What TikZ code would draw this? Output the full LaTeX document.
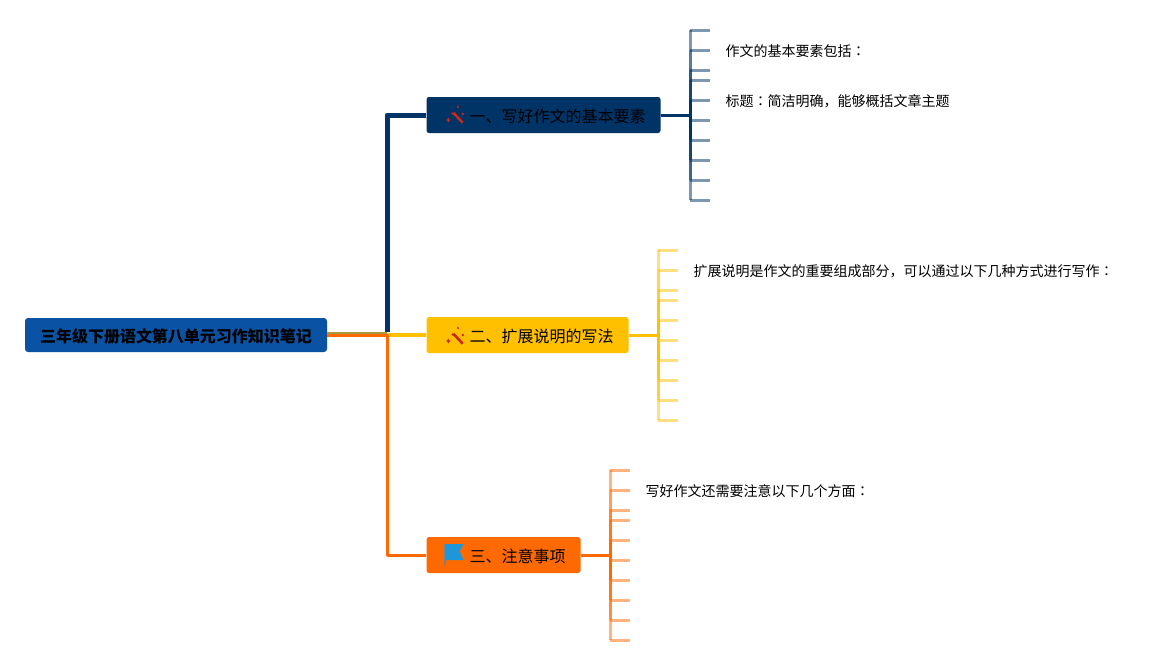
\documentclass[tikz,border=0pt]{standalone}
\usepackage{fontspec}
\setmainfont{Noto Sans CJK SC}
\newfontfamily\tcf{Noto Sans CJK TC}
\newcommand{\cln}{{\tcf ：}}
\definecolor{rootc}{HTML}{0A52A3}
\definecolor{navyc}{HTML}{003366}
\definecolor{yelc}{HTML}{FFC000}
\definecolor{orac}{HTML}{FF6A00}
\definecolor{olivec}{HTML}{AD9840}
\definecolor{wandc}{HTML}{C8281E}
\definecolor{flagc}{HTML}{1E96DC}
\tikzset{
  rootbox/.style={fill=rootc,rounded corners=3pt,inner sep=0pt,minimum height=34pt},
  roottext/.style={inner sep=0pt,text=black,font=\fontsize{16}{16}\selectfont\bfseries},
  branchbox/.style={rounded corners=2.5pt,inner sep=0pt,minimum height=36pt},
  branchtext/.style={inner sep=0pt,anchor=west,text=black,font=\fontsize{16}{16}\selectfont},
  leaftext/.style={inner sep=0pt,anchor=west,text=black,font=\fontsize{14}{14}\selectfont},
  leaftick/.style={line width=3pt,draw opacity=.5},
  sublink/.style={line width=3pt}
}
\newcommand{\wandicon}[2]{%
  \begin{scope}[shift={(#1,#2)}]
    \draw[wandc,line width=2.6pt] (-1.2,-3.3) -- (8.2,6.7);
    \fill[wandc] (-6.2,1.5) -- (-5.4,3.2) -- (-3.7,4) -- (-5.4,4.8) -- (-6.2,6.5) -- (-7,4.8) -- (-8.7,4) -- (-7,3.2) -- cycle;
    \fill[wandc] (3.5,-9) circle (1.1);
    \fill[wandc] (8.2,-2) circle (1.4);
    \fill[wandc] (-2,-2.5) circle (1.1);
  \end{scope}}
\newcommand{\leafgroup}[4]{% x, base y, colour, prefix
  \foreach \k/\dy in {0/0,1/20,2/40,3/50,4/70,5/90,6/110,7/130,8/150,9/170}{
    \pgfmathsetmacro{\yy}{#2+\dy}
    \coordinate (#4s\k) at (#1,\yy);
    \coordinate (#4t\k) at (#1+20,\yy);
    \draw[leaftick,#3] (#4s\k) -- (#4t\k);
  }
  \foreach \a/\b/\op in {0/1/.5,1/2/.65,2/3/.8,3/4/.9,4/5/1,5/6/1,6/7/.9,7/8/.75,8/9/.5}{
    \draw[#3,line width=3pt,draw opacity=\op] (#4s\a) -- (#4s\b);
  }
}
\begin{document}
\begin{tikzpicture}[x=1pt,y=-1pt]
\useasboundingbox[fill=white] (0,0) rectangle (1173,665);

\node[rootbox,minimum width=302pt] (root) at (176,335) {};
\node[roottext] (roott) at (176,336) {三年级下册语文第八单元习作知识笔记};
\node[branchbox,fill=navyc,minimum width=234pt] (b1) at (543.5,115) {};
\node[branchbox,fill=yelc,minimum width=202pt] (b2) at (527.5,335) {};
\node[branchbox,fill=orac,minimum width=154pt] (b3) at (503.5,555) {};
\node[branchtext] (t1) at (469.5,116) {一、写好作文的基本要素};
\node[branchtext] (t2) at (469.5,336.5) {二、扩展说明的写法};
\node[branchtext] (t3) at (469.5,556.5) {三、注意事项};

\coordinate (j) at (387,335);
\coordinate (jtop) at (387,332);
\coordinate (rootoutA) at (327,333.3);
\coordinate (jA) at (387,333.3);
\coordinate (rootoutB) at (327,335.8);
\coordinate (jB) at (387,335.8);
\draw[navyc,line width=5pt,line join=round] (jtop) |- (b1.west);
\draw[olivec,line width=2.6pt] (rootoutA) -- (jA);
\draw[yelc,line width=4pt] (j) -- (b2.west);
\draw[orac,line width=3pt,line join=round] (rootoutB) -- (jB) |- (b3.west);

\wandicon{454.5}{116}
\wandicon{454.5}{337}
\fill[flagc] (445,544) -- (463.5,544) -- (459.5,551) -- (463.5,560) -- (445,560) -- cycle;
\draw[flagc!60!gray,line width=1.2pt,draw opacity=.7] (445,544) -- (445,565);

\leafgroup{690}{30}{navyc}{a}
\leafgroup{658}{250}{yelc}{c}
\leafgroup{610}{470}{orac}{e}

\coordinate (ja) at (690,115);
\coordinate (jc) at (658,335);
\coordinate (je) at (610,555);
\draw[navyc,sublink] (b1.east) -- (ja);
\draw[yelc,sublink] (b2.east) -- (jc);
\draw[orac,sublink] (b3.east) -- (je);

\node[leaftext] (l1) at (725.5,51) {作文的基本要素包括\cln};
\node[leaftext] (l2) at (725.5,101) {标题\cln 简洁明确，能够概括文章主题};
\node[leaftext] (l3) at (693.5,271) {扩展说明是作文的重要组成部分，可以通过以下几种方式进行写作\cln};
\node[leaftext] (l4) at (645.5,491) {写好作文还需要注意以下几个方面\cln};
\end{tikzpicture}
\end{document}
